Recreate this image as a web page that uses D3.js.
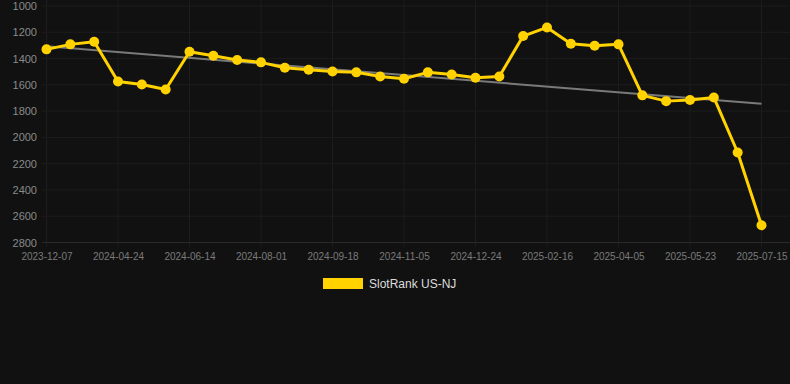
<!DOCTYPE html>
<html><head><meta charset="utf-8">
<script src="https://cdn.jsdelivr.net/npm/d3@7"></script>
<style>
html,body{margin:0;padding:0;background:#111111;}
svg{display:block;}
</style></head>
<body>
<svg id="chart" width="790" height="384"></svg>
<script>
// Categories (dates): tick labels shown every 3rd point; intermediate dates estimated
const dates = [
  "2023-12-07","2024-01-23","2024-03-09","2024-04-24","2024-05-11","2024-05-28",
  "2024-06-14","2024-06-30","2024-07-16","2024-08-01","2024-08-17","2024-09-02",
  "2024-09-18","2024-10-04","2024-10-20","2024-11-05","2024-11-18","2024-12-01",
  "2024-12-24","2025-01-10","2025-01-28","2025-02-16","2025-03-04","2025-03-20",
  "2025-04-05","2025-04-21","2025-05-07","2025-05-23","2025-06-09","2025-06-27",
  "2025-07-15"
];
const rankValues = [
  1330,1292,1272,1574,1597,1635,
  1348,1379,1411,1429,1470,1485,
  1498,1505,1536,1554,1505,1521,
  1546,1536,1229,1163,1287,1302,
  1292,1680,1724,1716,1696,2115,
  2669
];
const yTicks = [1000,1200,1400,1600,1800,2000,2200,2400,2600,2800];
const seriesName = "SlotRank US-NJ";

(function(){
const svg = d3.select("#chart");
const plotLeft = 42, plotRight = 790, plotTop = 6, plotBottom = 242.5;

const x = d3.scalePoint().domain(dates).range([46.5, 761.5]);
const y = d3.scaleLinear().domain([1000, 2800]).range([plotTop, plotBottom]);

const font = "'Liberation Sans', Arial, Helvetica, sans-serif";

// vertical grid at labeled categories
const tickDates = dates.filter((d, i) => i % 3 === 0);
svg.append("g").selectAll("line").data(tickDates).join("line")
  .attr("x1", d => x(d)).attr("x2", d => x(d))
  .attr("y1", 0).attr("y2", plotBottom + 4)
  .attr("stroke", "#1d1d1d").attr("stroke-width", 1);

// horizontal grid
svg.append("g").selectAll("line").data(yTicks).join("line")
  .attr("x1", plotLeft).attr("x2", plotRight)
  .attr("y1", d => y(d)).attr("y2", d => y(d))
  .attr("stroke", d => d === 2800 ? "#2a2a2a" : "#1d1d1d").attr("stroke-width", 1);

// y axis labels
const yAxis = d3.axisLeft(y).tickValues(yTicks).tickSize(0).tickPadding(0).tickFormat(d3.format("d"));
const gy = svg.append("g").attr("transform", "translate(37,0)").call(yAxis);
gy.select(".domain").remove();
gy.selectAll("text").attr("fill", "#8a8a8a").attr("font-size", "11px").attr("font-family", font);

// x axis labels
const xAxis = d3.axisBottom(x).tickValues(tickDates).tickSize(0).tickPadding(0);
const gx = svg.append("g").attr("transform", `translate(0,${plotBottom + 10})`).call(xAxis);
gx.select(".domain").remove();
gx.selectAll("text").attr("fill", "#7a7a7a").attr("font-size", "10px").attr("font-family", font);

// trend line (least squares)
const n = rankValues.length;
const idx = d3.range(n);
const mx = d3.mean(idx), my = d3.mean(rankValues);
const slope = d3.sum(idx, i => (i - mx) * (rankValues[i] - my)) / d3.sum(idx, i => (i - mx) ** 2);
const intercept = my - slope * mx;
svg.append("line")
  .attr("x1", x(dates[0])).attr("y1", y(intercept))
  .attr("x2", x(dates[n - 1])).attr("y2", y(intercept + slope * (n - 1)))
  .attr("stroke", "#7a7a7a").attr("stroke-width", 2);

// series line
const line = d3.line().x((d, i) => x(dates[i])).y(d => y(d));
svg.append("path").datum(rankValues)
  .attr("d", line).attr("fill", "none")
  .attr("stroke", "#FFD200").attr("stroke-width", 3).attr("stroke-linejoin", "round");

svg.append("g").selectAll("circle").data(rankValues).join("circle")
  .attr("cx", (d, i) => x(dates[i])).attr("cy", d => y(d)).attr("r", 5)
  .attr("fill", "#FFD200");

// legend
const lg = svg.append("g");
lg.append("rect").attr("x", 323).attr("y", 278).attr("width", 40).attr("height", 11).attr("fill", "#FFD200");
lg.append("text").attr("x", 369).attr("y", 288).text(seriesName)
  .attr("fill", "#dddddd").attr("font-size", "12px").attr("font-family", font);
})();
</script>
</body></html>
